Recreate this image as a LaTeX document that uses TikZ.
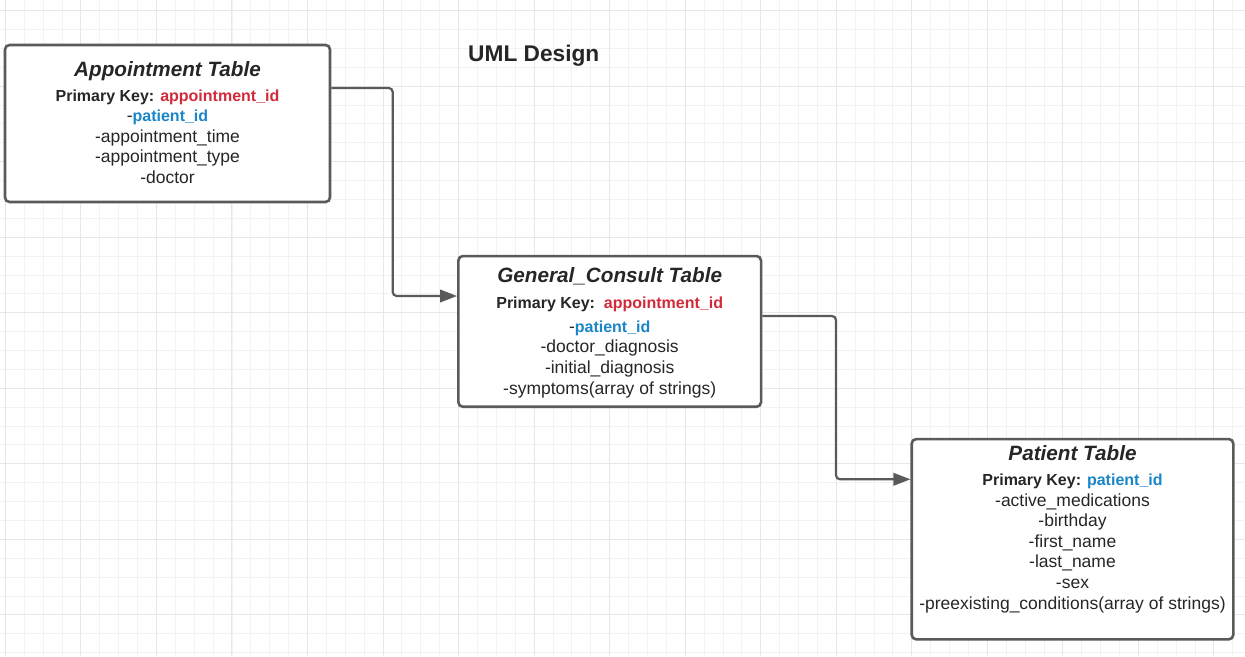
\documentclass[tikz,border=0pt]{standalone}
\usepackage{fontspec}
\setmainfont{Liberation Sans}
\usetikzlibrary{arrows.meta}

\definecolor{gridminor}{HTML}{F2F2F2}
\definecolor{gridmajor}{HTML}{E7E7E7}
\definecolor{edge}{HTML}{5A5A5A}
\definecolor{keyred}{HTML}{D22A3A}
\definecolor{keyblue}{HTML}{1A86C8}
\definecolor{ink}{HTML}{262626}

\newcommand{\keyfont}{\fontsize{16}{20}\selectfont\bfseries}

\begin{document}
\begin{tikzpicture}[x=1pt,y=-1pt,
  tablebox/.style={draw=edge, line width=2.6pt, rounded corners=4.5pt, fill=white, inner sep=0pt},
  tabletitle/.style={anchor=base, inner sep=0pt, text=ink, font=\fontsize{20.7}{24}\selectfont\bfseries\itshape},
  keyline/.style={anchor=base, inner sep=0pt, text=ink, font=\keyfont},
  field/.style={anchor=base, inner sep=0pt, text=ink, font=\fontsize{17.5}{20}\selectfont},
  conn/.style={draw=edge, line width=2.2pt, rounded corners=4pt, -{Triangle[length=17pt,width=12.5pt]}}]

% page and grid paper
\useasboundingbox (0,0) rectangle (1245,656);
\fill[white] (0,0) rectangle (1245,656);
\foreach \i in {0,...,65}
  \draw[gridminor, line width=0.9pt] ({5.4+18.883*\i},0) -- ++(0,656);
\foreach \i in {0,...,34}
  \draw[gridminor, line width=0.9pt] (0,{10.6+18.883*\i}) -- ++(1245,0);
\foreach \i in {0,...,16}
  \draw[gridmajor, line width=1pt] ({5.4+75.53*\i},0) -- ++(0,656);
\foreach \i in {0,...,8}
  \draw[gridmajor, line width=1pt] (0,{10.6+75.53*\i}) -- ++(1245,0);

% heading
\node[anchor=base, inner sep=0pt, text=ink, font=\fontsize{22.7}{26}\selectfont\bfseries] (heading) at (533.8,61.7) {UML Design};

% table boxes
\node[tablebox, minimum width=325pt, minimum height=157pt] (appt) at (167.5,123.5) {};
\node[tablebox, minimum width=302.7pt, minimum height=150.7pt] (gc) at (609.7,331.4) {};
\node[tablebox, minimum width=321.6pt, minimum height=200.3pt] (pat) at (1072.5,539.2) {};

% Appointment table
\node[tabletitle] (appt-title) at (167.5,76) {Appointment Table};
\node[keyline] (appt-key) at (167.5,101) {Primary Key: \textcolor{keyred}{appointment\_id}};
\node[field] (appt-f1) at (167.5,121.7) {-{\keyfont\color{keyblue}patient\_id}};
\node[field] (appt-f2) at (167.5,142.3) {-appointment\_time};
\node[field] (appt-f3) at (167.5,162.7) {-appointment\_type};
\node[field] (appt-f4) at (167.5,183.3) {-doctor};

% General_Consult table
\node[tabletitle] (gc-title) at (609.7,282.3) {General\_Consult Table};
\node[keyline] (gc-key) at (609.7,308.3) {Primary Key:\ \ \textcolor{keyred}{appointment\_id}};
\node[field] (gc-f1) at (609.7,332.3) {-{\keyfont\color{keyblue}patient\_id}};
\node[field] (gc-f2) at (609.7,352.7) {-doctor\_diagnosis};
\node[field] (gc-f3) at (609.7,373.3) {-initial\_diagnosis};
\node[field] (gc-f4) at (609.7,394) {-symptoms(array of strings)};

% Patient table
\node[tabletitle] (pat-title) at (1072.5,460.7) {Patient Table};
\node[keyline] (pat-key) at (1072.5,485) {Primary Key: \textcolor{keyblue}{patient\_id}};
\node[field] (pat-f1) at (1072.5,506) {-active\_medications};
\node[field] (pat-f2) at (1072.5,526.7) {-birthday};
\node[field] (pat-f3) at (1072.5,547.3) {-first\_name};
\node[field] (pat-f4) at (1072.5,567.7) {-last\_name};
\node[field] (pat-f5) at (1072.5,588.3) {-sex};
\node[field] (pat-f6) at (1072.5,609) {-preexisting\_conditions(array of strings)};

% relations
\coordinate (bend1) at (392.7,296);
\coordinate (bend2) at (836,479.3);
\draw[conn] ([yshift=35.5pt]appt.east) -| (bend1) -- (gc.west |- bend1);
\draw[conn] ([yshift=15.4pt]gc.east) -| (bend2) -- (pat.west |- bend2);
\end{tikzpicture}
\end{document}
